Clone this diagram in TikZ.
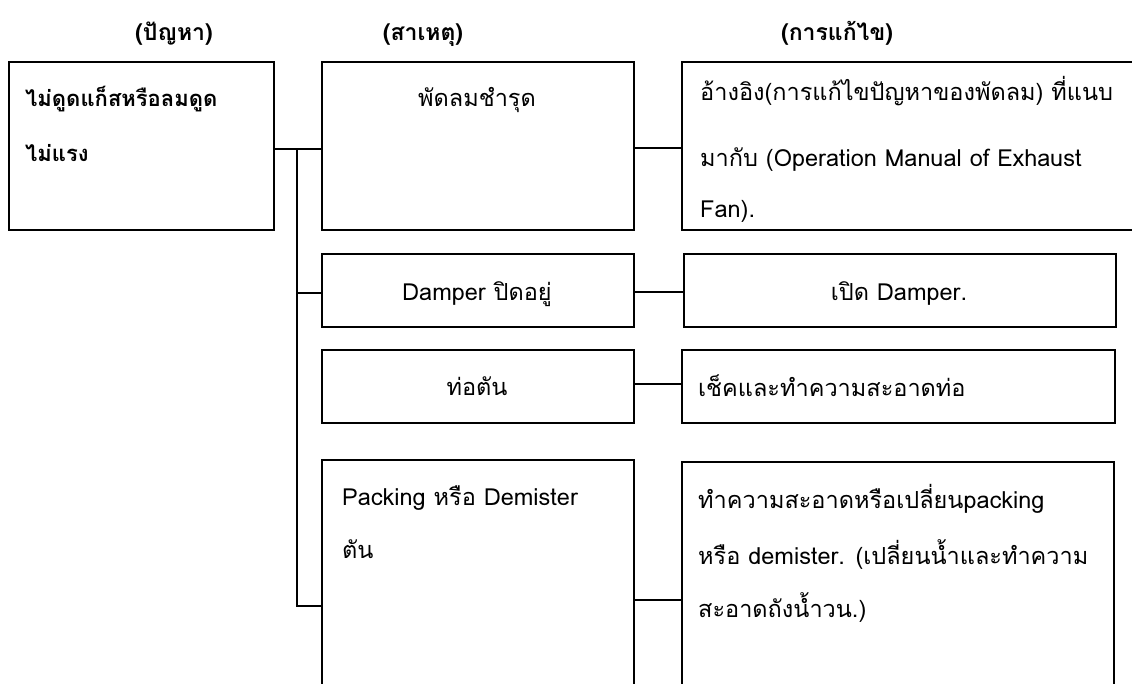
\documentclass[tikz,border=0pt]{standalone}
\usepackage{fontspec}
\setmainfont[Script=Thai]{Loma}
\begin{document}
\begin{tikzpicture}[x=1pt,y=-1pt,
  box/.style={draw=black, line width=1.8pt, rectangle, inner sep=0pt, anchor=north west},
  conn/.style={draw=black, line width=1.4pt},
  txt/.style={inner sep=0pt, anchor=base west, font=\fontsize{23.5}{28}\selectfont},
  txtc/.style={txt, anchor=base},
  hdr/.style={inner sep=0pt, anchor=base, font=\fontsize{23}{28}\selectfont\bfseries},
  txtb/.style={txt, font=\fontsize{22}{26}\selectfont\bfseries}]
\useasboundingbox (0,0) rectangle (1132,683);
\clip (0,0) rectangle (1132,683);
% headers
\node[hdr] (h1) at (174,40) {(ปัญหา)};
\node[hdr] (h2) at (423,40) {(สาเหตุ)};
\node[hdr] (h3) at (837,40) {(การแก้ไข)};
% boxes
\node[box, minimum width=265pt, minimum height=168pt] (prob) at (8,61) {};
\node[box, minimum width=312pt, minimum height=168pt] (c1) at (321,61) {};
\node[box, minimum width=480pt, minimum height=168pt] (s1) at (681,61) {};
\node[box, minimum width=312pt, minimum height=73pt] (c2) at (321,253) {};
\node[box, minimum width=432pt, minimum height=73pt] (s2) at (683,253) {};
\node[box, minimum width=312pt, minimum height=73pt] (c3) at (321,349) {};
\node[box, minimum width=433pt, minimum height=73pt] (s3) at (681,349) {};
\node[box, minimum width=312pt, minimum height=286pt] (c4) at (321,459) {};
\node[box, minimum width=432pt, minimum height=276pt] (s4) at (681,461) {};
% texts
\node[txtb] (tp1) at (25,106) {ไม่ดูดแก็สหรือลมดูด};
\node[txtb] (tp2) at (25,161) {ไม่แรง};
\node[txtc] (tc1) at (477,106) {พัดลมชำรุด};
\node[txt] (ts11) at (700,100) {อ้างอิง(การแก้ไขปัญหาของพัดลม) ที่แนบ};
\node[txt] (ts12) at (700,166) {มากับ (Operation Manual of Exhaust};
\node[txt] (ts13) at (700,217) {Fan).};
\node[txtc] (tc2) at (477,300) {Damper ปิดอยู่};
\node[txtc] (ts2) at (899,300) {เปิด Damper.};
\node[txtc] (tc3) at (477,395) {ท่อตัน};
\node[txt] (ts3) at (698,396) {เช็คและทำความสะอาดท่อ};
\node[txt] (tc41) at (342,505) {Packing หรือ Demister};
\node[txt] (tc42) at (342,558) {ตัน};
\node[txt] (ts41) at (698,508) {ทำความสะอาดหรือเปลี่ยนpacking};
\node[txt] (ts42) at (698,564) {หรือ demister. (เปลี่ยนน้ำและทำความ};
\node[txt] (ts43) at (698,617) {สะอาดถังน้ำวน.)};
% connectors
\coordinate (tk) at (297,148);
\coordinate (p1) at ([yshift=-3pt]prob.east);
\coordinate (q1) at ([yshift=-3pt]c1.west);
\coordinate (q4) at ([yshift=-3pt]c4.west);
\coordinate (q2) at ([yshift=-2.5pt]c2.west);
\coordinate (r1) at ([yshift=-2pt]c1.east);
\coordinate (r2) at ([yshift=-1.5pt]c2.east);
\coordinate (r3) at ([yshift=2.5pt]c3.east);
\draw[conn] (p1) -- (q1);
\draw[conn] (tk) |- (q4);
\draw[conn] (tk |- q2) -- (q2);
\draw[conn] (r1) -- (s1.west |- r1);
\draw[conn] (r2) -- (s2.west |- r2);
\draw[conn] (r3) -- (s3.west |- r3);
\draw[conn] (c4.east |- s4.west) -- (s4.west);
\end{tikzpicture}
\end{document}
